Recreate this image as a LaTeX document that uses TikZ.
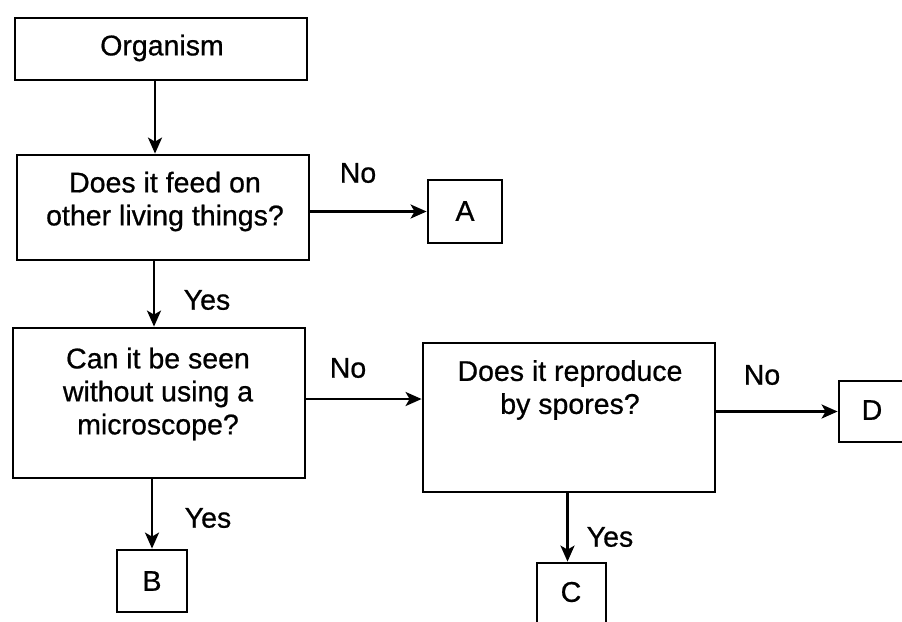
\documentclass[tikz,border=0pt]{standalone}
\usepackage{fontspec}
\setmainfont{Liberation Sans}
\newfontfamily\scanfont{Liberation Sans}[FakeBold=0.7]
\usetikzlibrary{arrows.meta,calc}
\begin{document}
\begin{tikzpicture}[x=1pt,y=-1pt,
  box/.style={draw=black,line width=2.8pt,rectangle,inner sep=0pt},
  txt/.style={font=\scanfont\fontsize{28.5}{33}\selectfont,align=center,inner sep=0pt},
  lab/.style={font=\scanfont\fontsize{28.5}{33}\selectfont,inner sep=0pt},
  arr/.style={line width=2.5pt,-{Stealth[length=16pt,width=14pt,inset=4pt]}}]
\useasboundingbox (0,0) rectangle (902,621);
\clip (0,0) rectangle (902,621);
\fill[white] (0,0) rectangle (902,621);
% boxes
\node[box,minimum width=292pt,minimum height=62pt] (org) at (161,49) {};
\node[box,minimum width=292pt,minimum height=105pt] (feed) at (163,207.5) {};
\node[box,minimum width=74pt,minimum height=63pt] (A) at (465,211.5) {};
\node[box,minimum width=292pt,minimum height=150pt] (micro) at (159,403) {};
\node[box,minimum width=292pt,minimum height=149pt] (repro) at (569,417.5) {};
\node[box,minimum width=66pt,minimum height=61pt] (D) at (872,411.5) {};
\node[box,minimum width=70pt,minimum height=62pt] (B) at (152,581) {};
\node[box,minimum width=69pt,minimum height=64pt] (C) at (571.5,595) {};
% texts
\node[txt] (orgT) at (162,48) {Organism};
\node[txt] (feedT) at (165,201.5) {Does it feed on\\other living things?};
\node[txt] (microT) at (158,394) {Can it be seen\\without using a\\microscope?};
\node[txt] (reproT) at (570,390) {Does it reproduce\\by spores?};
\node[txt] (AT) at (465,211) {A};
\node[txt] (BT) at (152,581) {B};
\node[txt] (CT) at (571,592) {C};
\node[txt] (DT) at (872,410) {D};
% arrows
\draw[arr] ([xshift=-6pt]org.south) -- ([xshift=-8pt]feed.north);
\draw[arr] (feed.east |- A) -- (A.west);
\draw[arr] ([xshift=-9pt]feed.south) -- ([xshift=-9pt]feed.south |- micro.north);
\draw[arr] ([yshift=4pt]micro.east) -- ([yshift=4pt]micro.east -| repro.west);
\draw[arr] (repro.east |- D) -- (D.west);
\draw[arr] (micro.south -| B) -- (B.north);
\draw[arr] ([xshift=-4pt]C.north |- repro.south) -- ([xshift=-4pt]C.north);
% labels
\node[lab] (no1) at (358,173) {No};
\node[lab] (yes1) at (207,300) {Yes};
\node[lab] (no2) at (348,368) {No};
\node[lab] (yes2) at (208,518) {Yes};
\node[lab] (no3) at (762,375) {No};
\node[lab] (yes3) at (610,537) {Yes};
\end{tikzpicture}
\end{document}
